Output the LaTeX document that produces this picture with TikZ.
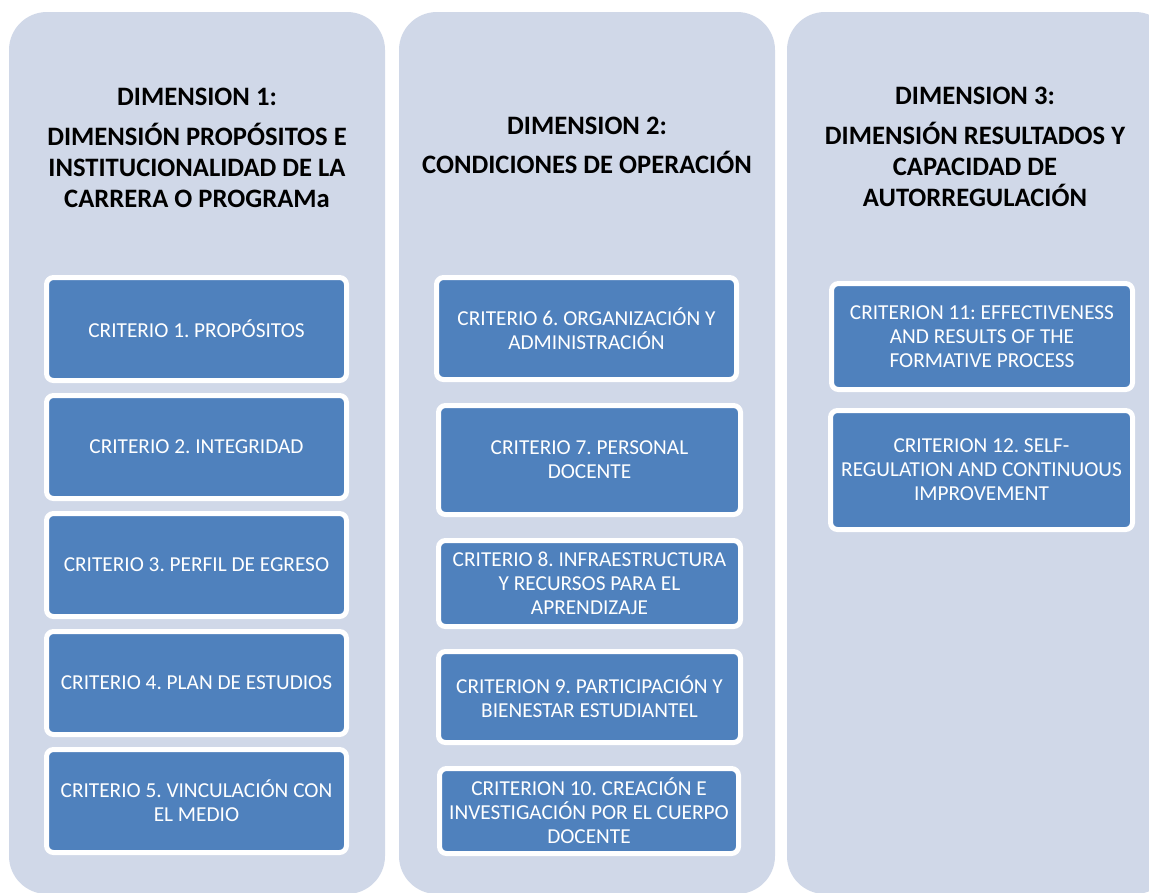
\documentclass[tikz,border=0pt]{standalone}
\usepackage{fontspec}
\setmainfont{Carlito}
\definecolor{panelbg}{HTML}{D0D8E8}
\definecolor{critblue}{HTML}{4F81BD}
\begin{document}
\frenchspacing
\begin{tikzpicture}[x=1pt,y=-1pt,
  panel/.style={fill=panelbg, rounded corners=38pt},
  crit/.style={fill=critblue, draw=white, line width=5pt, rounded corners=7pt,
    text=white, align=center, inner sep=0pt,
    font=\fontsize{21.3}{24}\selectfont\frenchspacing},
  dimhead/.style={font=\bfseries\fontsize{26.6}{31}\selectfont\frenchspacing, align=center, text=black, inner sep=0pt}]
\useasboundingbox (0,0) rectangle (1149,892);
\fill[white] (0,0) rectangle (1149,892);
% panels
\path[panel] (9,12) rectangle (385,894);
\path[panel] (399,12) rectangle (775,894);
\path[panel] (787,12) rectangle (1173,894);
% headings
\node[dimhead] (d1a) at (197,97) {DIMENSION 1:};
\node[dimhead] (d1b) at (197,165.5) {DIMENSIÓN PROPÓSITOS E\\INSTITUCIONALIDAD DE LA\\CARRERA O PROGRAMa};
\node[dimhead] (d2a) at (587,126) {DIMENSION 2:};
\node[dimhead] (d2b) at (587,162.5) {CONDICIONES DE OPERACIÓN};
\node[dimhead] (d3a) at (975,96) {DIMENSION 3:};
\node[dimhead] (d3b) at (975,164.5) {DIMENSIÓN RESULTADOS Y\\CAPACIDAD DE\\AUTORREGULACIÓN};
% column 1
\node[crit, minimum width=300pt, minimum height=103pt] (c1) at (196.5,329) {CRITERIO 1. PROPÓSITOS};
\node[crit, minimum width=300pt, minimum height=103pt] (c2) at (196.5,447) {CRITERIO 2. INTEGRIDAD};
\node[crit, minimum width=300pt, minimum height=103pt] (c3) at (196.5,565) {CRITERIO 3. PERFIL DE EGRESO};
\node[crit, minimum width=300pt, minimum height=103pt] (c4) at (196.5,683) {CRITERIO 4. PLAN DE ESTUDIOS};
\node[crit, minimum width=300pt, minimum height=103pt] (c5) at (196.5,801) {CRITERIO 5. VINCULACIÓN CON\\EL MEDIO};
% column 2
\node[crit, minimum width=300pt, minimum height=102pt] (c6) at (586.5,328.5) {CRITERIO 6. ORGANIZACIÓN Y\\ADMINISTRACIÓN};
\node[crit, minimum width=302pt, minimum height=109pt] (c7) at (589.5,460) {CRITERIO 7. PERSONAL\\DOCENTE};
\node[crit, minimum width=302pt, minimum height=86pt] (c8) at (589.5,583.5) {CRITERIO 8. INFRAESTRUCTURA\\Y RECURSOS PARA EL\\APRENDIZAJE};
\node[crit, minimum width=302pt, minimum height=91pt] (c9) at (589.5,697) {CRITERION 9. PARTICIPACIÓN Y\\BIENESTAR ESTUDIANTEL};
\node[crit, minimum width=299pt, minimum height=85pt] (c10) at (589,811) {CRITERION 10. CREACIÓN E\\INVESTIGACIÓN POR EL CUERPO\\DOCENTE};
% column 3
\node[crit, minimum width=301pt, minimum height=106pt] (c11) at (982,336.5) {CRITERION 11: EFFECTIVENESS\\AND RESULTS OF THE\\FORMATIVE PROCESS};
\node[crit, minimum width=302pt, minimum height=119pt] (c12) at (981.5,470) {CRITERION 12. SELF-\\REGULATION AND CONTINUOUS\\IMPROVEMENT};
\end{tikzpicture}
\end{document}
